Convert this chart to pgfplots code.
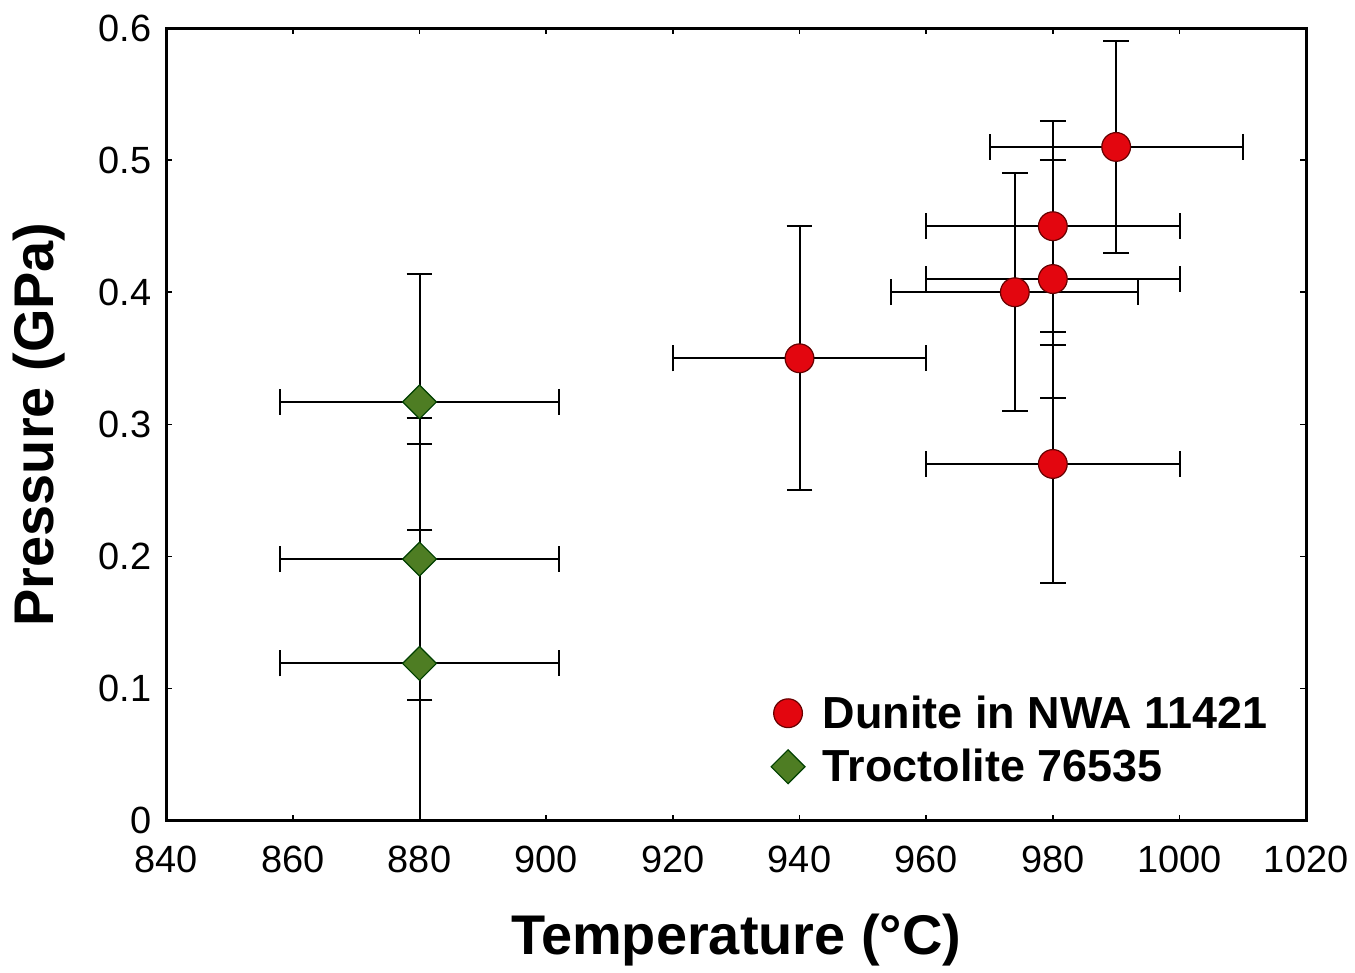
\documentclass[border={3pt 0pt 0pt 4pt}]{standalone}
\usepackage{fontspec}
\setmainfont{Liberation Sans}
\usepackage{pgfplots}
\pgfplotsset{compat=1.18}
\definecolor{dunred}{HTML}{E3060F}
\definecolor{trocgreen}{HTML}{4E7D23}

\pgfplotstableread{
T    P     ex    eyp   eym
940  0.35  20    0.10  0.10
990  0.51  20    0.08  0.08
980  0.45  20    0.08  0.08
980  0.41  20    0.09  0.09
974  0.40  19.5  0.09  0.09
980  0.27  20    0.09  0.09
}\dunite

\pgfplotstableread{
T    P      ex   eyp    eym
880  0.317  22   0.097  0.097
880  0.198  22   0.107  0.107
880  0.119  22   0.166  0.166
}\troc

\begin{document}
\begin{tikzpicture}
\begin{axis}[
  scale only axis, width=571pt, height=397pt,
  xmin=840, xmax=1020, ymin=0, ymax=0.6,
  xtick={840,860,...,1020},
  ytick={0,0.1,0.2,0.3,0.4,0.5,0.6},
  /pgf/number format/assume math mode=true,
  /pgf/number format/1000 sep={},
  yticklabel style={/pgf/number format/fixed,/pgf/number format/precision=1, xshift=-4pt},
  tick label style={font=\fontsize{19}{22}\selectfont},
  xticklabel style={yshift=-9pt},
  tick align=inside, major tick length=3pt,
  tick style={black, line width=0.8pt},
  axis line style={line width=1.5pt},
  xlabel={\textbf{Temperature (°C)}},
  ylabel={\textbf{Pressure (GPa)}},
  label style={font=\fontsize{28}{32}\selectfont},
  xlabel style={yshift=-14pt},
  ylabel style={yshift=10pt},
  legend style={at={(0.975,0.035)}, anchor=south east, draw=none, fill=none,
    font=\bfseries\fontsize{22.5}{26}\selectfont, row sep=5pt,
    /tikz/every odd column/.append style={column sep=7pt}},
  legend cell align=left,
  error bars/error bar style={black, line width=1pt},
  error bars/error mark options={black, rotate=90, mark size=6.5pt, line width=1pt},
]
\addplot[only marks, mark=*, mark size=7.2pt, mark options={fill=dunred, draw=red!40!black, line width=0.6pt},
  error bars/.cd, x dir=both, x explicit, y dir=both, y explicit]
  table[x=T, y=P, x error=ex, y error plus=eyp, y error minus=eym] {\dunite};
\addlegendentry{Dunite in NWA 11421}
\addplot[only marks, mark=square*, mark size=6pt, mark options={rotate=45, fill=trocgreen, draw=green!25!black, line width=0.6pt},
  error bars/.cd, x dir=both, x explicit, y dir=both, y explicit]
  table[x=T, y=P, x error=ex, y error plus=eyp, y error minus=eym] {\troc};
\addlegendentry{Troctolite 76535}
\end{axis}
\end{tikzpicture}
\end{document}
